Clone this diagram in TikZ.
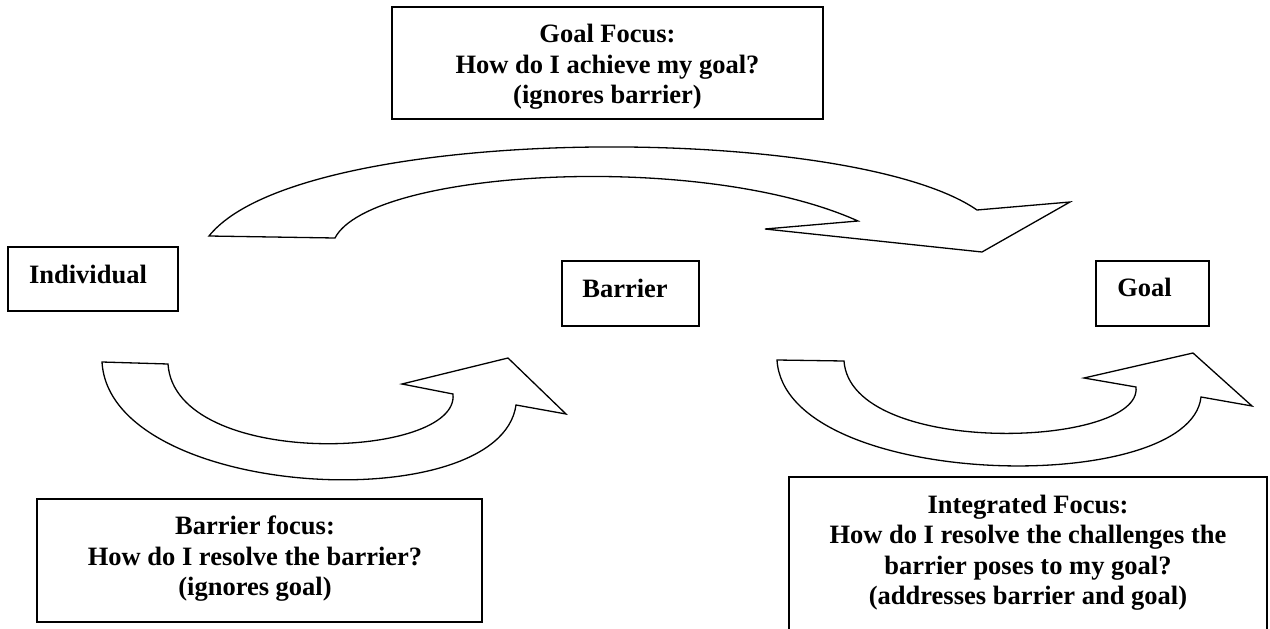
\documentclass[tikz,border=0pt]{standalone}
\usepackage{fontspec}
\setmainfont{Liberation Serif}
\begin{document}
\begin{tikzpicture}[x=1pt,y=-1pt,
  box/.style={draw, line width=2pt, inner sep=0pt},
  lbl/.style={font=\bfseries\fontsize{26.5}{30.5}\selectfont, align=center, inner sep=0pt},
  blockarrow/.style={draw, line width=1.3pt, fill=white, line join=miter}]
\clip (0,0) rectangle (1270,629);
\fill[white] (0,0) rectangle (1270,629);

% boxes
\node[box, minimum width=431pt, minimum height=112pt] (goalfocus) at (607.5,63) {};
\node[box, minimum width=170pt, minimum height=64pt] (indiv) at (93,279) {};
\node[box, minimum width=137pt, minimum height=65pt] (barrier) at (630.5,293.5) {};
\node[box, minimum width=113pt, minimum height=65pt] (goal) at (1152.5,293.5) {};
\node[box, minimum width=445pt, minimum height=123pt] (barfocus) at (259.5,560.5) {};
\node[box, minimum width=478pt, minimum height=173pt] (intfocus) at (1028,563.5) {};

% texts
\node[lbl, anchor=base] (indivtext) at (88,283) {Individual};
\node[lbl, anchor=base] (barriertext) at (625,297) {Barrier};
\node[lbl, anchor=base] (goaltext) at (1144.5,296) {Goal};
\node[lbl] (goalfocustext) at (607.5,66.8) {Goal Focus:\\How do I achieve my goal?\\(ignores barrier)};
\node[lbl] (barfocustext) at (255,558.7) {Barrier focus:\\How do I resolve the barrier?\\(ignores goal)};
\node[lbl] (intfocustext) at (1028,552.7) {Integrated Focus:\\How do I resolve the challenges the\\barrier poses to my goal?\\(addresses barrier and goal)};

% top block arrow
\draw[blockarrow] (209,236) -- (335,238)
  .. controls (370,170) and (700,150) .. (858,221)
  -- (765,229) -- (982,252) -- (1070,202) -- (977,210)
  .. controls (850,122) and (300,122) .. (209,236) -- cycle;

% bottom-left block arrow
\draw[blockarrow] (102,362) -- (168,364)
  .. controls (175,470) and (460,460) .. (453,394)
  -- (402,384) -- (508,358) -- (566,414) -- (516,405)
  .. controls (500,520) and (110,500) .. (102,362) -- cycle;

% bottom-right block arrow
\draw[blockarrow] (777,360) -- (844,361)
  .. controls (851,458) and (1143,448) .. (1136,387)
  -- (1084,378) -- (1193,353) -- (1252,406) -- (1201,397)
  .. controls (1190,498) and (785,490) .. (777,360) -- cycle;
\end{tikzpicture}
\end{document}
